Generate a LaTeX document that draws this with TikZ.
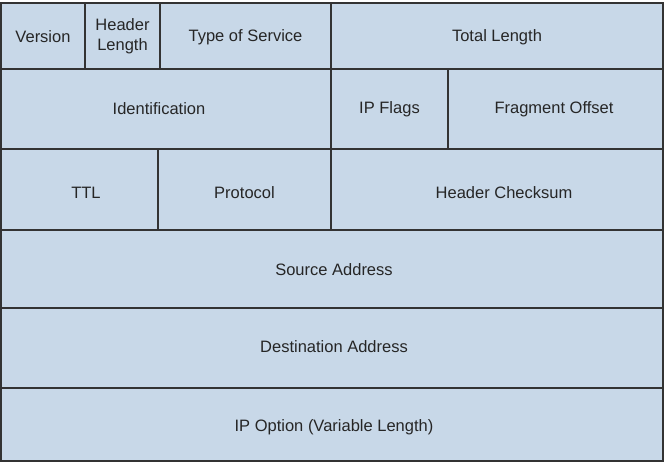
\documentclass[tikz,border=0pt]{standalone}
\usepackage{fontspec}
\setmainfont{Liberation Sans}
\begin{document}
\begin{tikzpicture}[x=1pt,y=-1pt,
  cell/.style={draw=black!80,line width=2pt,fill=cellblue},
  lbl/.style={font=\fontsize{16.5}{20}\selectfont,text=black!85,align=center,inner sep=0pt}]
\definecolor{cellblue}{HTML}{C8D8E8}
\useasboundingbox (0,0) rectangle (668,464);
\fill[white] (0,0) rectangle (668,464);
% row 1
\draw[cell] (1,3) rectangle (85,69);
\draw[cell] (85,3) rectangle (160,69);
\draw[cell] (160,3) rectangle (331,69);
\draw[cell] (331,3) rectangle (663,69);
% row 2
\draw[cell] (1,69) rectangle (331,149);
\draw[cell] (331,69) rectangle (448,149);
\draw[cell] (448,69) rectangle (663,149);
% row 3
\draw[cell] (1,149) rectangle (158,230);
\draw[cell] (158,149) rectangle (331,230);
\draw[cell] (331,149) rectangle (663,230);
% rows 4-6
\draw[cell] (1,230) rectangle (663,308);
\draw[cell] (1,308) rectangle (663,388);
\draw[cell] (1,388) rectangle (663,461);
% labels
\node[lbl] (ver) at (43,37) {Version};
\node[lbl] (hl) at (122.5,36.5) {Header\\Length};
\node[lbl] (tos) at (245.5,37) {Type of Service};
\node[lbl] (tl) at (497,37) {Total Length};
\node[lbl] (id) at (159,109) {Identification};
\node[lbl] (ipf) at (389.5,109) {IP Flags};
\node[lbl] (fo) at (554,109) {Fragment Offset};
\node[lbl] (ttl) at (86,193) {TTL};
\node[lbl] (proto) at (244.5,193) {Protocol};
\node[lbl] (hc) at (504,193) {Header Checksum};
\node[lbl] (src) at (334,270) {Source Address};
\node[lbl] (dst) at (334,347) {Destination Address};
\node[lbl] (opt) at (334,427) {IP Option (Variable Length)};
\end{tikzpicture}
\end{document}
